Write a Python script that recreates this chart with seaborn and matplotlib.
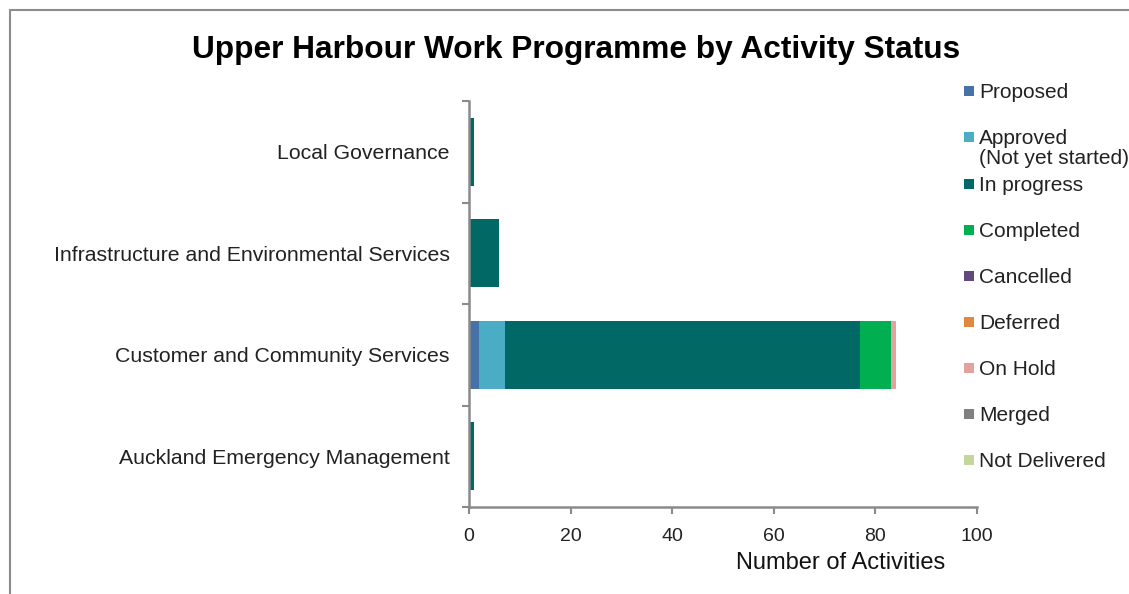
import numpy as np
import pandas as pd
import matplotlib
matplotlib.use("Agg")
import matplotlib.pyplot as plt
from matplotlib.patches import Rectangle
from matplotlib.lines import Line2D
import seaborn as sns

# ---- data ----
categories = ["Local Governance",
              "Infrastructure and Environmental Services",
              "Customer and Community Services",
              "Auckland Emergency Management"]
statuses = ["Proposed", "Approved\n(Not yet started)", "In progress", "Completed",
            "Cancelled", "Deferred", "On Hold", "Merged", "Not Delivered"]
proposed      = [0, 0, 2, 0]
approved      = [0, 0, 5, 0]
in_progress   = [1, 6, 70, 1]
completed     = [0, 0, 6, 0]
cancelled     = [0, 0, 0, 0]
deferred      = [0, 0, 0, 0]
on_hold       = [0, 0, 1, 0]
merged        = [0, 0, 0, 0]
not_delivered = [0, 0, 0, 0]
xticks = [0, 20, 40, 60, 80, 100]

colors = ["#4672A8", "#4BACC6", "#016866", "#00B050", "#604A7B",
          "#E0893E", "#E3A2A0", "#808080", "#C3D69B"]

series = [proposed, approved, in_progress, completed, cancelled,
          deferred, on_hold, merged, not_delivered]

sns.set_theme(style="white")
plt.rcParams['font.family'] = ['Liberation Sans', 'DejaVu Sans']

W, H = 1129, 594
fig = plt.figure(figsize=(W / 100, H / 100), dpi=100)
fig.patch.set_facecolor("white")
ax = fig.add_axes([469 / W, 1 - 507 / H, (977 - 469) / W, (507 - 101) / H])

df = pd.DataFrame({s: v for s, v in zip(statuses, series)}, index=categories)
cum = df.cumsum(axis=1)

# draw cumulative bars from the last status back to the first (stacked look)
for s, c in reversed(list(zip(statuses, colors))):
    sns.barplot(x=cum[s].values, y=categories, order=categories, orient="h",
                color=c, width=0.67, ax=ax, saturation=1, linewidth=0)

ax.set_xlim(0, 100)
ax.set_ylim(3.5, -0.5)
ax.set_xticks(xticks)
ax.set_xticklabels([str(t) for t in xticks], fontsize=14, color="#222222")
ax.set_yticks(range(len(categories)))
ax.set_yticklabels(categories, fontsize=15.3, color="#222222")
ax.set_yticks(np.arange(-0.5, 4, 1), minor=True)
ax.tick_params(axis="y", which="major", length=0, pad=14)
ax.tick_params(axis="y", which="minor", length=5, width=1.5, color="#8a8a8a", left=True)
ax.tick_params(axis="x", which="major", length=5, width=1.5, color="#8a8a8a", bottom=True, pad=10)
ax.set_ylabel("")
ax.set_xlabel("Number of Activities", fontsize=17, color="#111111")
ax.xaxis.set_label_coords((841 - 469) / (977 - 469), -0.112)
ax.xaxis.label.set_va("top")
for side in ["top", "right"]:
    ax.spines[side].set_visible(False)
for side in ["left", "bottom"]:
    ax.spines[side].set_visible(True)
    ax.spines[side].set_color("#8a8a8a")
    ax.spines[side].set_linewidth(1.8)
ax.grid(False)

# title
fig.text(576 / W, 1 - 50 / H, "Upper Harbour Work Programme by Activity Status",
         ha="center", va="center", fontsize=22.8, fontweight="bold", color="black")

# manual legend
leg_y = [91, 137, 184, 230, 276, 322, 368, 414, 460]
for s, c, y in zip(statuses, colors, leg_y):
    fig.patches.append(Rectangle((964 / W, 1 - (y + 5) / H), 10 / W, 10 / H,
                                 transform=fig.transFigure, facecolor=c,
                                 edgecolor="none"))
    fig.text(979 / W, 1 - (y - 8) / H, s, ha="left", va="top",
             fontsize=15, color="#222222", linespacing=1.05)

# outer chart frame (left and top edges visible)
fig.add_artist(Line2D([10 / W, 10 / W], [0, 1 - 10 / H], transform=fig.transFigure,
                      color="#8c8c8c", linewidth=1.5))
fig.add_artist(Line2D([10 / W, 1], [1 - 10 / H, 1 - 10 / H], transform=fig.transFigure,
                      color="#8c8c8c", linewidth=1.5))

fig.savefig("out.png", dpi=100)
